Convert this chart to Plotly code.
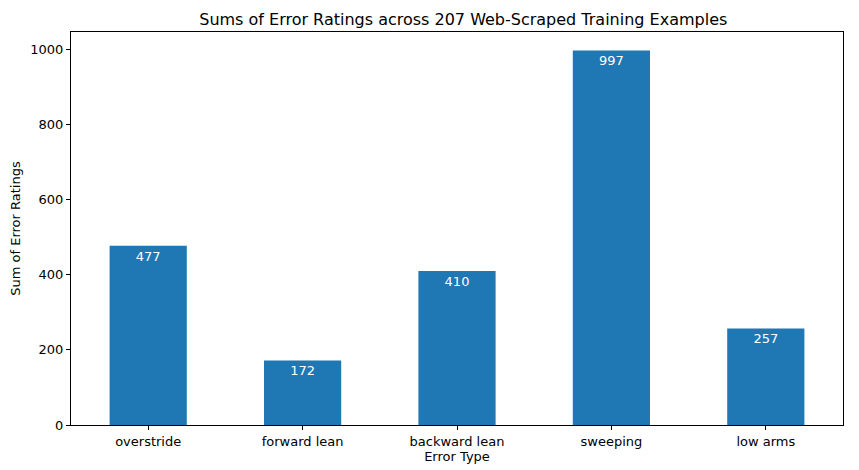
import plotly.graph_objects as go

categories = ["overstride", "forward lean", "backward lean", "sweeping", "low arms"]
values = [477, 172, 410, 997, 257]

fig = go.Figure(go.Bar(
    x=list(range(len(categories))), y=values, width=0.5,
    marker=dict(color="#1f77b4", line=dict(width=0)),
    text=[str(v) for v in values], textposition="inside",
    insidetextanchor="end", textangle=0,
    textfont=dict(color="white", size=13, family="DejaVu Sans"),
))
fig.update_traces(texttemplate="%{text}<br> ")
fig.update_layout(
    width=851, height=462, margin=dict(l=63, r=16, t=24, b=45),
    plot_bgcolor="white", paper_bgcolor="white",
    font=dict(family="DejaVu Sans", size=13, color="black"),
    title=dict(text="Sums of Error Ratings across 207 Web-Scraped Training Examples",
               x=0.535, xanchor="center", y=0.975, yanchor="middle", font=dict(size=16)),
    showlegend=False,
)
axis = dict(showline=True, linecolor="black", linewidth=1, mirror=True,
            ticks="outside", ticklen=4, tickcolor="black", showgrid=False, zeroline=False,
            automargin=False)
fig.update_xaxes(**axis, range=[-0.5, 4.5], tickvals=list(range(5)), ticktext=categories,
                 title=dict(text="Error Type", standoff=4, font=dict(size=13)))
fig.update_yaxes(**axis, range=[0, 1046], tickvals=[0, 200, 400, 600, 800, 1000],
                 title=dict(text="Sum of Error Ratings", standoff=6, font=dict(size=13)))
fig.write_html("out.html")
